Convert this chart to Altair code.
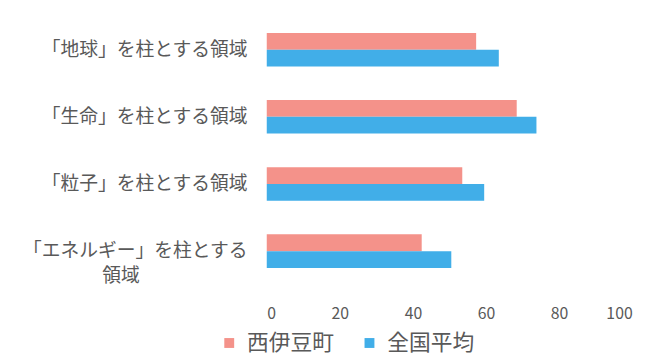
import altair as alt
import pandas as pd

categories = ["「地球」を柱とする領域", "「生命」を柱とする領域", "「粒子」を柱とする領域", "「エネルギー」を柱とする\n領域　　　　　\u2800"]
series = ["西伊豆町", "全国平均"]
town_values = [57.3, 68.4, 53.5, 42.4]
national_values = [63.5, 73.8, 59.5, 50.5]
colors = ["#F4928A", "#41AEE8"]
x_ticks = [0, 20, 40, 60, 80, 100]

rows = []
for c, a, b in zip(categories, town_values, national_values):
    rows.append({"cat": c, "series": series[0], "value": a})
    rows.append({"cat": c, "series": series[1], "value": b})
df = pd.DataFrame(rows)

font = "Noto Sans CJK JP"

chart = alt.Chart(df).mark_bar().encode(
    y=alt.Y("cat:N", sort=categories, title=None,
            scale=alt.Scale(paddingInner=0.5, paddingOuter=0.25),
            axis=alt.Axis(domain=False, ticks=False, labelFontSize=19, labelColor="#595959",
                          labelFont=font, labelPadding=20, labelLimit=300,
                          labelLineHeight=25,
                          labelExpr="split(datum.label, '\\n')")),
    yOffset=alt.YOffset("series:N", sort=series),
    x=alt.X("value:Q", title=None, scale=alt.Scale(domain=[0, 100], nice=False),
            axis=alt.Axis(values=x_ticks, domain=False, ticks=False, grid=False,
                          labelFontSize=16, labelColor="#595959", labelFont=font,
                          labelPadding=21)),
    color=alt.Color("series:N", sort=series,
                    scale=alt.Scale(domain=series, range=colors),
                    legend=alt.Legend(title=None, orient="none", legendX=-49, legendY=320,
                                      direction="horizontal", symbolType="square",
                                      symbolSize=100, symbolStrokeWidth=0,
                                      labelFontSize=22, labelColor="#595959", labelFont=font,
                                      columnPadding=24, labelOffset=7)),
).properties(
    width=370, height=272,
    autosize=alt.AutoSizeParams(type="none"),
    padding={"left": 262, "top": 6, "right": 15, "bottom": 72},
).configure_view(stroke=None)

chart.save("out.html", embed_options={"renderer": "svg", "actions": False})
